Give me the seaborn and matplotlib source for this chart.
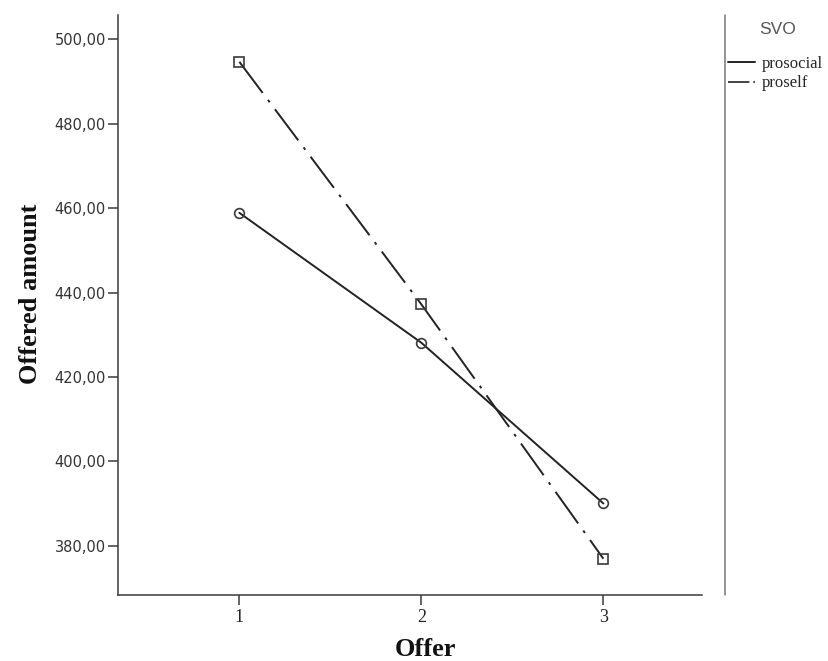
import matplotlib
matplotlib.use("Agg")
import matplotlib.pyplot as plt
from matplotlib.lines import Line2D
import pandas as pd
import seaborn as sns

# values
offers = [1, 2, 3]
prosocial = [458.9, 428.1, 390.0]
proself = [494.7, 437.2, 376.9]
groups = ["prosocial", "proself"]
y_ticks = [380, 400, 420, 440, 460, 480, 500]

INK = "#222222"
SPINE = "#3a3a3a"
DASHDOT = (20, 4.5, 1.5, 4.5)

df = pd.DataFrame({
    "Offer": offers * 2,
    "Offered amount": prosocial + proself,
    "SVO": [groups[0]] * len(offers) + [groups[1]] * len(offers),
})

sns.set_theme(style="ticks", rc={
    "axes.edgecolor": SPINE,
    "axes.linewidth": 1.1,
    "xtick.color": SPINE,
    "ytick.color": SPINE,
    "xtick.major.size": 7,
    "ytick.major.size": 7,
    "xtick.major.width": 1.1,
    "ytick.major.width": 1.1,
})

fig = plt.figure(figsize=(8.29, 6.61), dpi=100)
ax = fig.add_axes([118.3 / 829, 66 / 661, (701.7 - 118.3) / 829, (595 - 15) / 661])

sns.lineplot(
    data=df, x="Offer", y="Offered amount", hue="SVO", style="SVO",
    palette={"prosocial": INK, "proself": INK},
    dashes={"prosocial": "", "proself": DASHDOT},
    markers={"prosocial": "o", "proself": "s"},
    markersize=7, markerfacecolor="none", markeredgecolor=SPINE,
    markeredgewidth=1.2, linewidth=1.4, legend=False, ax=ax,
)

ax.set_xlim(0.335, 3.54)
ax.set_ylim(368.3, 505.8)
ax.set_xticks(offers)
ax.set_xticklabels([str(o) for o in offers], family="Liberation Serif",
                   fontsize=13, color=INK)
ax.set_yticks(y_ticks)
ax.set_yticklabels([f"{v:.2f}".replace(".", ",") for v in y_ticks],
                   family="DejaVu Sans", fontsize=10.5, color="#333333")
ax.tick_params(axis="x", pad=3)
ax.tick_params(axis="y", pad=2)
sns.despine(ax=ax)

ax.set_xlabel("Offer", family="Liberation Serif", fontweight="bold",
              fontsize=19, color="#111111")
ax.set_ylabel("Offered amount", family="Liberation Serif", fontweight="bold",
              fontsize=19, color="#111111")
ax.xaxis.set_label_coords(0.526, -0.074)
ax.yaxis.set_label_coords(-0.13, 0.52)

# separator between plot and legend
fig.add_artist(Line2D([725 / 829, 725 / 829], [1 - 15 / 661, 1 - 595 / 661],
                      transform=fig.transFigure, color="#777777", lw=1.1))

fig.text(778 / 829, 1 - 30 / 661, "SVO", family="Liberation Sans",
         fontsize=12.5, color="#555555", ha="center", va="center")

handles = [
    Line2D([], [], color=INK, lw=1.4),
    Line2D([], [], color="#444444", lw=1.4, dashes=(11, 2, 1.2, 3)),
]
fig.legend(handles, groups, loc="upper left",
           bbox_to_anchor=(728 / 829, 1 - 56 / 661), frameon=False,
           borderpad=0, borderaxespad=0, handlelength=1.65, handletextpad=0.4,
           labelspacing=0.2, prop={"family": "Liberation Serif", "size": 12})

fig.savefig("out.png", dpi=100, facecolor="white")
